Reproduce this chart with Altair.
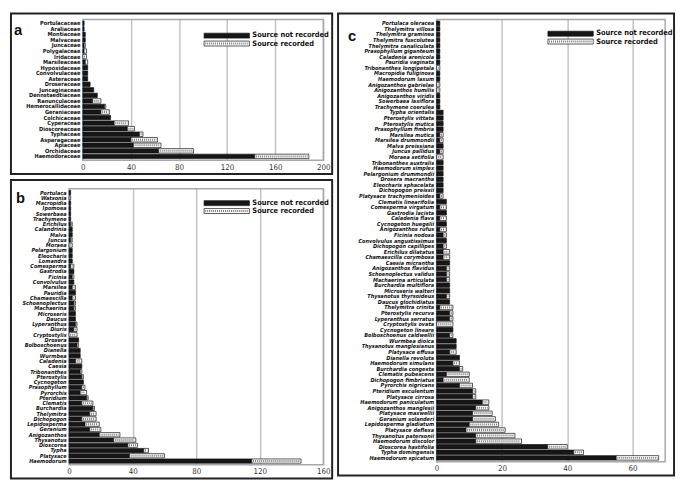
import altair as alt
import pandas as pd

FONT = "'Liberation Sans Narrow', 'DejaVu Sans Condensed', 'Liberation Sans', Arial, sans-serif"
NR = "Source not recorded"
RC = "Source recorded"

# ---------------- panel a : families ----------------
a_names = ["Portulacaceae", "Araliaceae", "Montiaceae", "Malvaceae", "Juncaceae", "Polygalaceae",
           "Iridaceae", "Marsileaceae", "Hypoxidaceae", "Convolvulaceae", "Asteraceae", "Droseraceae",
           "Juncaginaceae", "Dennstaedtiaceae", "Ranunculaceae", "Hemerocallidaceae", "Geraniaceae",
           "Colchicaceae", "Cyperaceae", "Dioscoreaceae", "Typhaceae", "Asparagaceae", "Apiaceae",
           "Orchidaceae", "Haemodoraceae"]
a_not_rec = [1, 1, 2, 2, 1, 1, 0, 2, 4, 4, 4, 6, 9, 12, 8, 18, 15, 23, 26, 37, 47, 40, 42, 63, 143]
a_rec = [0, 0, 0, 0, 1, 2, 3, 2, 0, 0, 0, 0, 0, 0, 7, 1, 7, 0, 12, 6, 3, 22, 23, 29, 45]

# ---------------- panel b : genera ----------------
b_names = ["Portulaca", "Watsonia", "Macropidia", "Ipomoea", "Sowerbaea", "Trachymene", "Erichilus",
           "Calandrinia", "Malva", "Juncus", "Moraea", "Pelargonium", "Eleocharis", "Lomandra",
           "Comesperma", "Gastrodia", "Ficinia", "Convolvulus", "Marsilea", "Pauridia", "Chamaescilla",
           "Schoenoplectus", "Machaerina", "Microseris", "Daucus", "Lyperanthus", "Diuris",
           "Cryptostylis", "Drosera", "Bolboschoenus", "Dianella", "Wurmbea", "Caladenia", "Caesia",
           "Tribonanthes", "Pterostylis", "Cycnogeton", "Prasophyllum", "Pyrorchis", "Pteridium",
           "Clematis", "Burchardia", "Thelymitra", "Dichopogon", "Lepidosperma", "Geranium",
           "Anigozanthos", "Thysanotus", "Dioscorea", "Typha", "Platysace", "Haemodorum"]
b_not_rec = [1, 0, 1, 1, 1, 1, 1, 2, 2, 1, 0, 2, 2, 2, 1, 3, 2, 3, 2, 4, 2, 3, 3, 4, 4, 4, 3, 0, 6, 5,
             7, 7, 4, 8, 7, 8, 9, 8, 7, 11, 8, 15, 13, 8, 10, 13, 19, 28, 37, 47, 38, 115]
b_rec = [0, 1, 0, 0, 0, 0, 1, 0, 0, 1, 2, 0, 0, 0, 2, 0, 1, 0, 2, 0, 2, 1, 1, 0, 0, 1, 2, 5, 0, 1,
         0, 0, 4, 0, 1, 1, 0, 2, 4, 1, 7, 1, 4, 9, 9, 7, 13, 14, 6, 3, 22, 31]

# ---------------- panel c : species ----------------
c_names = ["Portulaca oleracea", "Thelymitra villosa", "Thelymitra graminea", "Thelymitra fuscolutea",
           "Thelymitra canaliculata", "Prasophyllum giganteum", "Caladenia arenicola", "Pauridia vaginata",
           "Tribonanthes longipetala", "Macropidia fuliginosa", "Haemodorum laxum",
           "Anigozanthos gabrielae", "Anigozanthos humilis", "Anigozanthos viridis", "Sowerbaea laxiflora",
           "Trachymene coerulea", "Typha orientalis", "Pterostylis vittata", "Pterostylis mutica",
           "Prasophyllum fimbria", "Marsilea mutica", "Marsilea drummondii", "Malva preissiana",
           "Juncus pallidus", "Moraea setifolia", "Tribonanthes australis", "Haemodorum simplex",
           "Pelargonium drummondii", "Drosera macrantha", "Eleocharis sphacelata", "Dichopogon preissii",
           "Platysace trachymenioides", "Clematis linearifolia", "Comesperma virgatum", "Gastrodia lacista",
           "Caladenia flava", "Cycnogeton huegelii", "Anigozanthos rufus", "Ficinia nodosa",
           "Convolvulus angustissimus", "Dichopogon capillipes", "Erichilus dilatatus",
           "Chamaescilla corymbosa", "Caesia micrantha", "Anigozanthos flavidus", "Schoenoplectus validus",
           "Machaerina articulata", "Burchardia multiflora", "Microseris walteri", "Thysanotus thyrsoideus",
           "Daucus glochidiatus", "Thelymitra crinita", "Pterostylis recurva", "Lyperanthus serratus",
           "Cryptostylis ovata", "Cycnogeton lineare", "Bolboschoenus caldwellii", "Wurmbea dioica",
           "Thysanotus manglesianus", "Platysace effusa", "Dianella revoluta", "Haemodorum simulans",
           "Burchardia congesta", "Clematis pubescens", "Dichopogon fimbriatus", "Pyrorchis nigricans",
           "Pteridium esculentum", "Platysace cirrosa", "Haemodorum paniculatum", "Anigozanthos manglesii",
           "Platysace maxwellii", "Geranium solanderi", "Lepidosperma gladiatum", "Platysace deflexa",
           "Thysanotus patersonii", "Haemodorum discolor", "Dioscorea hastifolia", "Typha domingensis",
           "Haemodorum spicatum"]
c_not_rec = [1, 1, 1, 1, 1, 1, 1, 1, 0, 1, 1, 0, 0, 1, 1, 1, 2, 2, 2, 2, 1, 1, 2, 1, 0, 2, 2, 2, 2, 2,
             2, 1, 3, 1, 3, 1, 3, 1, 2, 3, 2, 2, 2, 4, 3, 3, 3, 4, 4, 3, 4, 1, 4, 4, 0, 5, 4, 6, 6, 4,
             7, 5, 7, 3, 2, 7, 11, 11, 14, 12, 11, 11, 10, 9, 12, 12, 34, 42, 55]
c_rec = [0, 0, 0, 0, 0, 0, 0, 0, 1, 0, 0, 1, 1, 0, 0, 0, 0, 0, 0, 0, 1, 1, 0, 1, 2, 0, 0, 0, 0, 0,
         0, 1, 0, 2, 0, 2, 0, 2, 1, 0, 1, 2, 2, 0, 1, 1, 1, 0, 0, 1, 0, 4, 1, 1, 5, 0, 1, 0, 0, 2,
         0, 2, 1, 7, 8, 4, 1, 1, 2, 4, 6, 7, 9, 12, 12, 14, 6, 3, 13]


def segments(names, nr, rc):
    rows = []
    for n, a, b in zip(names, nr, rc):
        if a > 0:
            rows.append({"name": n, "source": NR, "x0": 0, "x1": a})
        if b > 0:
            rows.append({"name": n, "source": RC, "x0": a, "x1": a + b})
    return pd.DataFrame(rows)


ONE = pd.DataFrame({"k": [0]})


def panel(names, nr, rc, xmax, step, w, h, x_start, brd, letter, letter_xy, leg_xy, italic, lab_size):
    df = segments(names, nr, rc)
    df_rec = df[df["source"] == RC]
    yenc = alt.Y("name:N", sort=names, title=None,
                 scale=alt.Scale(paddingInner=0.2, paddingOuter=0.3),
                 axis=alt.Axis(labelFont=FONT, labelFontSize=lab_size, labelFontWeight="bold",
                               labelFontStyle="italic" if italic else "normal", labelColor="#111",
                               ticks=False, domain=False, grid=False, labelPadding=3, labelLimit=300,
                               offset=-x_start))
    xenc = alt.X("x0:Q", title=None,
                 scale=alt.Scale(domain=[0, xmax], nice=False, zero=True, range=[x_start, w]),
                 axis=alt.Axis(values=list(range(0, xmax + 1, step)), grid=True, gridColor="#c4c4c4",
                               gridWidth=1.5, ticks=False, domain=False, labelFont=FONT,
                               labelFontSize=8, labelColor="#333", labelPadding=3, labelFlush=False,
                               labelOverlap=False))
    bars = alt.Chart(df).mark_bar(stroke="#111", strokeWidth=0.7).encode(
        y=yenc, x=xenc, x2="x1:Q",
        fill=alt.Fill("source:N", scale=alt.Scale(domain=[NR, RC], range=["#161616", "#ffffff"]),
                      legend=None),
    )
    dots = alt.Chart(df_rec).mark_rule(strokeDash=[1, 1], strokeWidth=2, color="#7a7a7a",
                                       xOffset=1.2, x2Offset=-1.2).encode(
        y=alt.Y("name:N", sort=names), x=alt.X("x0:Q"), x2="x1:Q")

    frame = alt.Chart(ONE).mark_rect(filled=False, stroke="#a8a8a8", strokeWidth=1.5).encode(
        x=alt.value(x_start), x2=alt.value(w), y=alt.value(0), y2=alt.value(h))
    l, r, t, b = brd
    border = alt.Chart(ONE).mark_rect(filled=False, stroke="#222", strokeWidth=2).encode(
        x=alt.value(l), x2=alt.value(w + r), y=alt.value(t), y2=alt.value(h + b))
    lett = alt.Chart(ONE).mark_text(text=letter, font="Liberation Sans", fontSize=15, fontWeight="bold",
                                    align="left", baseline="alphabetic", color="#111").encode(
        x=alt.value(letter_xy[0]), y=alt.value(letter_xy[1]))

    lx, ly = leg_xy
    sw = 46
    leg1 = alt.Chart(ONE).mark_rect(fill="#161616", stroke="#111", strokeWidth=0.7).encode(
        x=alt.value(lx), x2=alt.value(lx + sw), y=alt.value(ly), y2=alt.value(ly + 5))
    leg2 = alt.Chart(ONE).mark_rect(fill="#ffffff", stroke="#111", strokeWidth=0.7).encode(
        x=alt.value(lx), x2=alt.value(lx + sw), y=alt.value(ly + 8), y2=alt.value(ly + 13))
    leg2d = alt.Chart(ONE).mark_rule(strokeDash=[1, 1], strokeWidth=2, color="#7a7a7a").encode(
        x=alt.value(lx + 1.2), x2=alt.value(lx + sw - 1.2), y=alt.value(ly + 10.5))
    t1 = alt.Chart(ONE).mark_text(text=NR, font=FONT, fontSize=7.5, fontWeight="bold", align="left",
                                  baseline="middle", color="#111").encode(
        x=alt.value(lx + sw + 3), y=alt.value(ly + 2.3))
    t2 = alt.Chart(ONE).mark_text(text=RC, font=FONT, fontSize=7.5, fontWeight="bold", align="left",
                                  baseline="middle", color="#111").encode(
        x=alt.value(lx + sw + 3), y=alt.value(ly + 10.7))
    return alt.layer(border, frame, bars, dots, leg1, leg2, leg2d, t1, t2, lett).properties(
        width=w, height=h)


# panel a shares its left origin with panel b; its bars start 14 px further right
pa = panel(a_names, a_not_rec, a_rec, 200, 20, 258, 143, 14, (-59, 9, -6, 14), "a", (-56, 16),
           (137, 14), False, 5.7)
pb = panel(b_names, b_not_rec, b_rec, 160, 20, 258, 280, 0, (-59, 9, -9, 14), "b", (-54, 14),
           (137, 12), True, 5.6)
pc = panel(c_names, c_not_rec, c_rec, 70, 10, 232, 449, 0, (-100, 9, -6, 14), "c", (-90, 22),
           (113, 12), True, 5.6)

left = alt.vconcat(pa, pb, spacing=2)
chart = alt.hconcat(left, pc, spacing=2).properties(
    padding={"left": 1, "top": 0, "right": 1, "bottom": 1}, background="white"
).configure_view(stroke="transparent")

chart.save("out.html", embed_options={"renderer": "svg", "actions": False})
